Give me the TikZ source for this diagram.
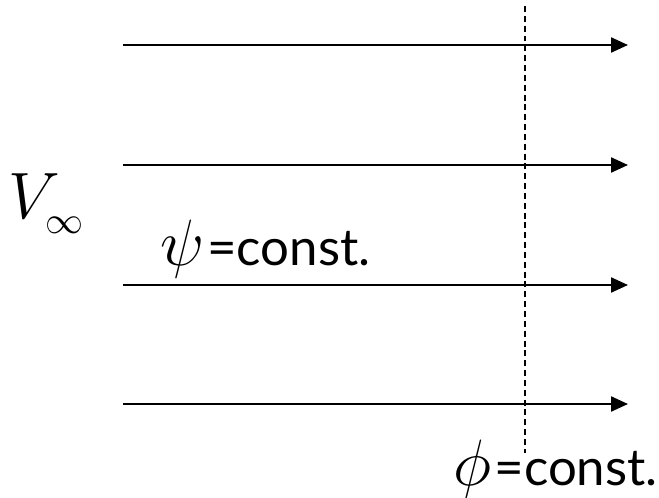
\documentclass[tikz,border=0pt]{standalone}
\usepackage{graphicx}
\usepackage{fontspec}
\setsansfont{Lato}
\usetikzlibrary{arrows.meta}
\tikzset{
  stream/.style={line width=1.3pt, -{Triangle[length=0.34cm,width=0.3cm]}},
  potline/.style={line width=0.8pt, dash pattern=on 3.4pt off 2.2pt},
}
\newcommand{\bigsym}[1]{\scalebox{1.5}{\Huge$#1$}}
\newcommand{\constlabel}[1]{\bigsym{#1}\,{\fontsize{29}{34}\selectfont\sffamily=const.}}
\newcommand{\infsub}{\lower2pt\hbox{\fontsize{14.4}{16}\selectfont$\infty$}}
\begin{document}
\begin{tikzpicture}[x=0.02cm, y=-0.02cm]
        \useasboundingbox (0,0) rectangle (659,497);
        % streamlines
        \foreach \yy [count=\i] in {45,165,285,404} {
          \coordinate (s\i) at (123,\yy);
          \coordinate (e\i) at (628,\yy);
          \draw[stream] (s\i) -- (e\i);
        }
        % equipotential line
        \coordinate (ptop) at (525,6);
        \coordinate (pbot) at (525,453);
        \draw[potline] (ptop) -- (pbot);
        % labels
        \node[inner sep=0pt, anchor=base west] (vinf) at (8,218) {\bigsym{V_{\infsub}}};
        \node[inner sep=0pt, anchor=base west] (psi) at (160,265) {\constlabel{\psi}};
        \node[inner sep=0pt, anchor=base east] (phi) at (658,485) {\constlabel{\phi}};
\end{tikzpicture}
\end{document}
